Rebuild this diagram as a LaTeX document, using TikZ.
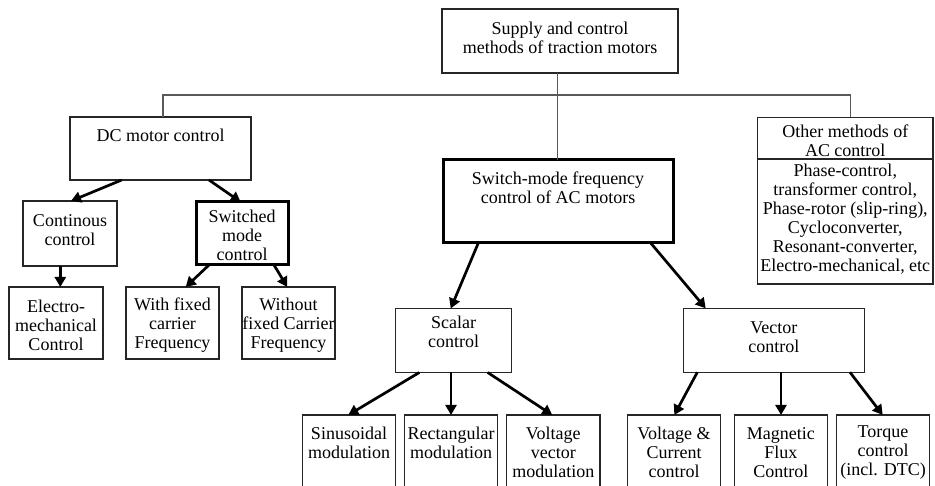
\documentclass[tikz,border=0pt]{standalone}
\usepackage{fontspec}
\setmainfont{Liberation Serif}
\usetikzlibrary{arrows.meta}

\begin{document}
\begin{tikzpicture}[x=1pt,y=-1pt,
  box/.style={draw=black!85,line width=1.2pt,inner sep=0pt,outer sep=0pt},
  boldbox/.style={box,draw=black,line width=3pt},
  txt/.style={align=center,inner sep=0pt,font=\fontsize{18}{19}\selectfont},
  tree/.style={draw=black!65,line width=1.4pt},
  arr/.style={draw=black,line width=2.7pt,-{Triangle[length=10pt,width=11pt]}}]
\useasboundingbox (0,0) rectangle (935,486);
\clip (0,0) rectangle (935,486);

% boxes
\node[box,minimum width=236pt,minimum height=64pt] (top) at (560,41) {};
\node[box,minimum width=181pt,minimum height=63pt] (dc) at (160.5,148.5) {};
\node[boldbox,minimum width=230pt,minimum height=83pt] (sw) at (558,201.5) {};
\node[box,minimum width=175.5pt,minimum height=166.5pt] (oth) at (845.25,200.75) {};
\node[box,minimum width=94pt,minimum height=65pt] (cont) at (70,233.5) {};
\node[boldbox,minimum width=92pt,minimum height=63pt] (smc) at (242,233.5) {};
\node[box,minimum width=94pt,minimum height=72pt] (elec) at (56,323) {};
\node[box,minimum width=93pt,minimum height=72pt] (wfix) at (172.5,323) {};
\node[box,minimum width=93pt,minimum height=72pt] (wofix) at (288.5,323) {};
\node[box,minimum width=116.5pt,minimum height=64pt] (scal) at (453.5,340.5) {};
\node[box,minimum width=181pt,minimum height=64pt] (vect) at (773.8,340.3) {};
\node[box,minimum width=93.4pt,minimum height=85pt] (sin) at (349,457.5) {};
\node[box,minimum width=93pt,minimum height=85pt] (rect) at (451.2,457.5) {};
\node[box,minimum width=93.3pt,minimum height=85pt] (vvm) at (553.3,457.5) {};
\node[box,minimum width=93.4pt,minimum height=85pt] (vc) at (674,457.5) {};
\node[box,minimum width=93pt,minimum height=85pt] (mf) at (780.8,457.5) {};
\node[box,minimum width=92.6pt,minimum height=85pt] (tq) at (883,457.5) {};

% divider inside the "other methods" box
\coordinate (ohd) at (845,159);
\draw[box] (oth.west |- ohd) -- (oth.east |- ohd);

% labels
\node[txt] (t-top) at (560,37.5) {Supply and control\\methods of traction motors};
\node[txt] (t-dc) at (160.5,135) {DC motor control};
\node[txt] (t-sw) at (558,188) {Switch-mode frequency\\control of AC motors};
\node[txt] (t-othh) at (845.25,141) {Other methods of\\AC control};
\node[txt] (t-othb) at (845.25,219.5) {Phase-control,\\transformer control,\\Phase-rotor (slip-ring),\\Cycloconverter,\\Resonant-converter,\\Electro-mechanical, etc};
\node[txt] (t-cont) at (70,230.5) {Continous\\control};
\node[txt] (t-smc) at (242,235) {Switched\\mode\\control};
\node[txt] (t-elec) at (56,325) {Electro-\\mechanical\\Control};
\node[txt] (t-wfix) at (172.5,325) {With fixed\\carrier\\Frequency};
\node[txt] (t-wofix) at (288.5,325) {Without\\fixed Carrier\\Frequency};
\node[txt] (t-scal) at (453.5,331.7) {Scalar\\control};
\node[txt] (t-vect) at (773.8,336.7) {Vector\\control};
\node[txt] (t-sin) at (349,443.3) {Sinusoidal\\modulation};
\node[txt] (t-rect) at (451.2,443.3) {Rectangular\\modulation};
\node[txt] (t-vvm) at (553.3,452.8) {Voltage\\vector\\modulation};
\node[txt] (t-vc) at (674,452.8) {Voltage \&\\Current\\control};
\node[txt] (t-mf) at (780.8,452.8) {Magnetic\\Flux\\Control};
\node[txt] (t-tq) at (883,452.8) {Torque\\control\\(incl. DTC)};

% tree connections from the root
\coordinate (bus) at (557.7,95);
\draw[tree] ([xshift=-2.3pt]top.south) -- ([xshift=-0.3pt]sw.north);
\draw[tree] ([xshift=2.5pt]dc.north) |- (bus) -| ([xshift=5.5pt]oth.north);

% arrows
\draw[arr] ([xshift=-38.8pt]dc.south) -- ([xshift=1pt]cont.north);
\draw[arr] ([xshift=48.5pt]dc.south) -- ([xshift=-1.3pt]smc.north);
\draw[arr] ([xshift=-9.7pt]cont.south) -- ([xshift=4.3pt]elec.north);
\draw[arr] ([xshift=-33pt]smc.south) -- ([xshift=13.2pt]wfix.north);
\draw[arr] ([xshift=32pt]smc.south) -- ([xshift=-1.2pt]wofix.north);
\draw[arr] ([xshift=-79.7pt]sw.south) -- ([xshift=-2.8pt]scal.north);
\draw[arr] ([xshift=92.7pt]sw.south) -- ([xshift=-68.1pt]vect.north);
\draw[arr] ([xshift=-34.2pt]scal.south) -- ([xshift=-0.7pt]sin.north);
\draw[arr] ([xshift=-2.5pt]scal.south) -- ([xshift=-0.2pt]rect.north);
\draw[arr] ([xshift=34.2pt]scal.south) -- ([xshift=-1pt]vvm.north);
\draw[arr] ([xshift=-76.5pt]vect.south) -- ([xshift=0.3pt]vc.north);
\draw[arr] ([xshift=7.2pt]vect.south) -- ([xshift=0.2pt]mf.north);
\draw[arr] ([xshift=76.2pt]vect.south) -- ([xshift=-0.3pt]tq.north);
\end{tikzpicture}
\end{document}
